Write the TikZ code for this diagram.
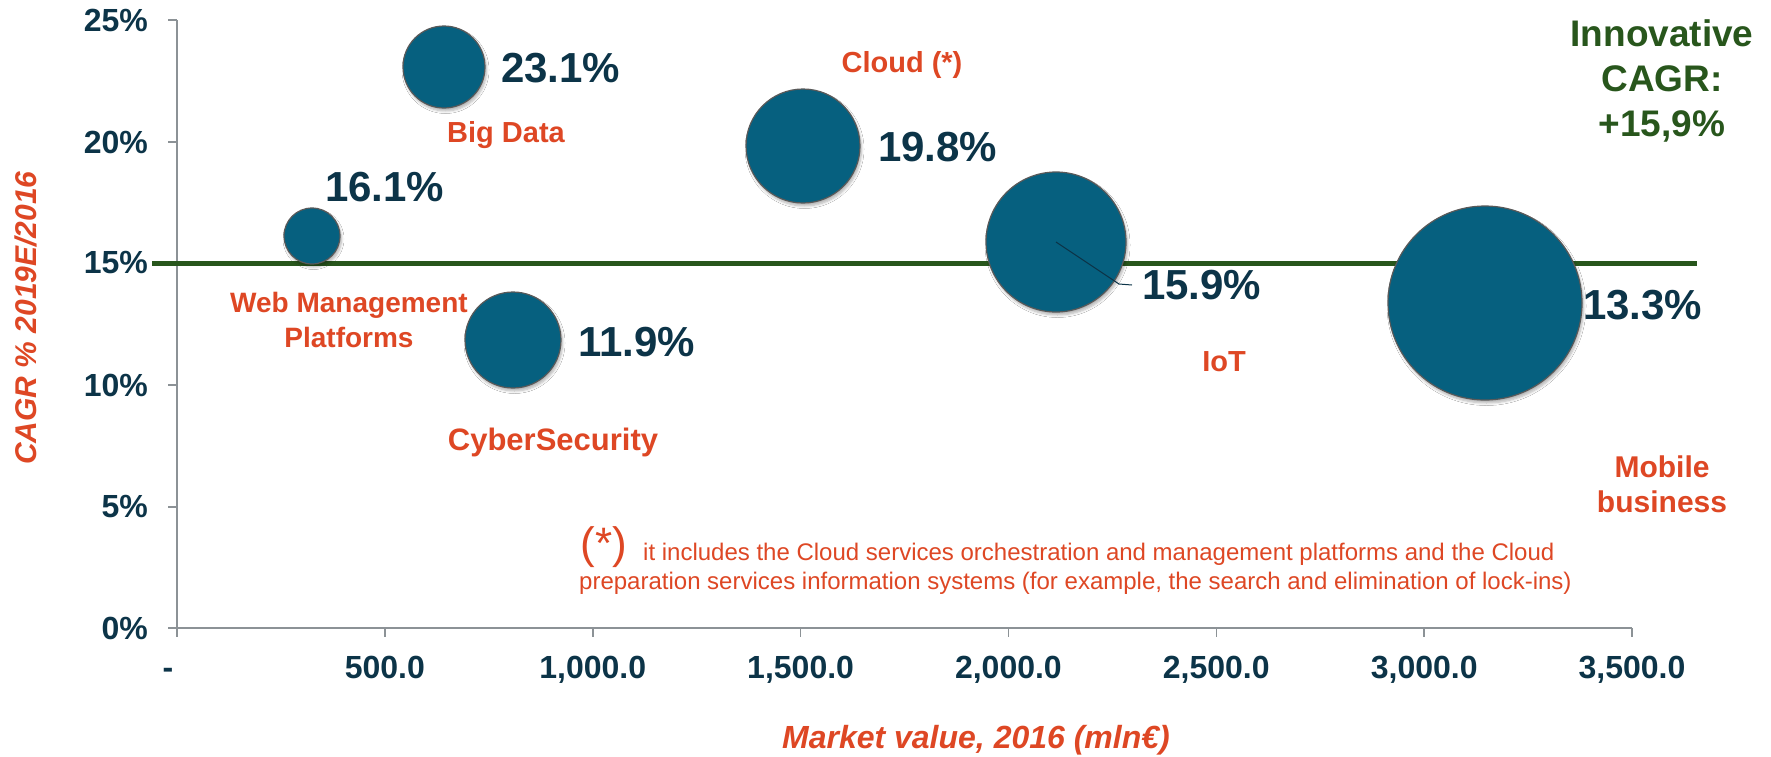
\documentclass[tikz,border=0pt]{standalone}
\usepackage{fontspec}
\setmainfont{Liberation Sans}
\usetikzlibrary{shadows.blur}
\definecolor{bub}{RGB}{6,96,127}
\definecolor{navy}{RGB}{12,52,72}
\definecolor{org}{RGB}{222,71,36}
\definecolor{grn}{RGB}{40,86,28}
\definecolor{axg}{RGB}{140,146,150}
\tikzset{
  bubble/.style={circle, fill=bub, draw=black!65, line width=1.2pt, inner sep=0pt, minimum size=#1,
     blur shadow={shadow xshift=1.5pt, shadow yshift=-3pt, shadow blur radius=2.5pt, shadow blur steps=6, shadow opacity=30}},
  val/.style={anchor=west, inner sep=0pt, text=navy, font=\fontsize{42}{48}\selectfont\bfseries},
  cat/.style={inner sep=0pt, text=org, align=center, font=\fontsize{29}{35}\selectfont\bfseries},
  ytl/.style={anchor=east, inner sep=0pt, text=navy, font=\fontsize{32}{38}\selectfont\bfseries},
  xtl/.style={anchor=base, inner sep=0pt, text=navy, font=\fontsize{32}{38}\selectfont\bfseries},
  axline/.style={draw=axg, line width=1.6pt},
  note/.style={anchor=base west, inner sep=0pt, text=org, font=\fontsize{24}{29}\selectfont},
}
\begin{document}
\begin{tikzpicture}[x=1pt,y=-1pt]
\useasboundingbox[fill=white] (0,0) rectangle (1771,756);

% axes
\draw[axline] (177,20) -- (177,628) -- (1632,628);
\foreach \yy in {20,142,263,385,507,628} \draw[axline] (168,\yy) -- (177,\yy);
\foreach \k in {0,...,7} \draw[axline] (177+\k*207.86,628) -- (177+\k*207.86,637);

% y tick labels
\node[ytl] (y25) at (148,20) {25\%};
\node[ytl] (y20) at (148,142) {20\%};
\node[ytl] (y15) at (148,263) {15\%};
\node[ytl] (y10) at (148,385) {10\%};
\node[ytl] (y05) at (148,507) {5\%};
\node[ytl] (y00) at (148,628) {0\%};

% x tick labels
\node[xtl] (x0) at (168,678) {-};
\node[xtl] (x1) at (384.9,678) {500.0};
\node[xtl] (x2) at (592.7,678) {1,000.0};
\node[xtl] (x3) at (800.6,678) {1,500.0};
\node[xtl] (x4) at (1008.4,678) {2,000.0};
\node[xtl] (x5) at (1216.3,678) {2,500.0};
\node[xtl] (x6) at (1424.2,678) {3,000.0};
\node[xtl] (x7) at (1632,678) {3,500.0};

% axis titles
\node[inner sep=0pt, text=org, font=\fontsize{32}{38}\selectfont\bfseries\itshape] (xtitle) at (976,740) {Market value, 2016 (mln€)};
\node[inner sep=0pt, text=org, rotate=90, font=\fontsize{30}{36}\selectfont\bfseries\itshape] (ytitle) at (26,318) {CAGR \% 2019E/2016};

% average line
\draw[draw=grn, line width=5pt] (152,263) -- (1697,263);

% bubbles
\node[bubble=56pt] (web) at (312,236) {};
\node[bubble=82pt] (big) at (444,67) {};
\node[bubble=96pt] (cyb) at (513,340) {};
\node[bubble=114pt] (cld) at (803,146) {};
\node[bubble=140pt] (iot) at (1056,242) {};
\node[bubble=194pt] (mob) at (1485,303) {};

% values
\node[val] (v231) at (501,68) {23.1\%};
\node[val] (v161) at (325,187) {16.1\%};
\node[val] (v119) at (578,342) {11.9\%};
\node[val] (v198) at (878,147) {19.8\%};
\node[val] (v159) at (1142,285) {15.9\%};
\node[val] (v133) at (1583,305) {13.3\%};

\coordinate (ld) at (1119,284);
\draw[navy, line width=1pt] (iot.center) -- (ld) -- ([xshift=-10pt]v159.west);

% category names
\node[cat] (nbig) at (506,135) {Big Data};
\node[cat, font=\fontsize{28}{35}\selectfont\bfseries] (nweb) at (349,320) {Web Management\\Platforms};
\node[cat, font=\fontsize{31}{36}\selectfont\bfseries] (ncyb) at (553,442) {CyberSecurity};
\node[cat] (ncld) at (902,65) {Cloud (*)};
\node[cat] (niot) at (1224,362) {IoT};
\node[cat, font=\fontsize{30}{35}\selectfont\bfseries] (nmob) at (1662,484) {Mobile\\business};

% innovative CAGR
\node[inner sep=0pt, text=grn, align=center, font=\fontsize{37}{45}\selectfont\bfseries] (innov) at (1662,81) {Innovative\\CAGR:\\+15,9\%};

% footnote
\node[inner sep=0pt, text=org, font=\fontsize{44}{50}\selectfont] (star) at (604,547) {(*)};
\node[note] (fn1) at (643,560) {it includes the Cloud services orchestration and management platforms and the Cloud};
\node[note] (fn2) at (579,589) {preparation services information systems (for example, the search and elimination of lock-ins)};
\end{tikzpicture}
\end{document}
